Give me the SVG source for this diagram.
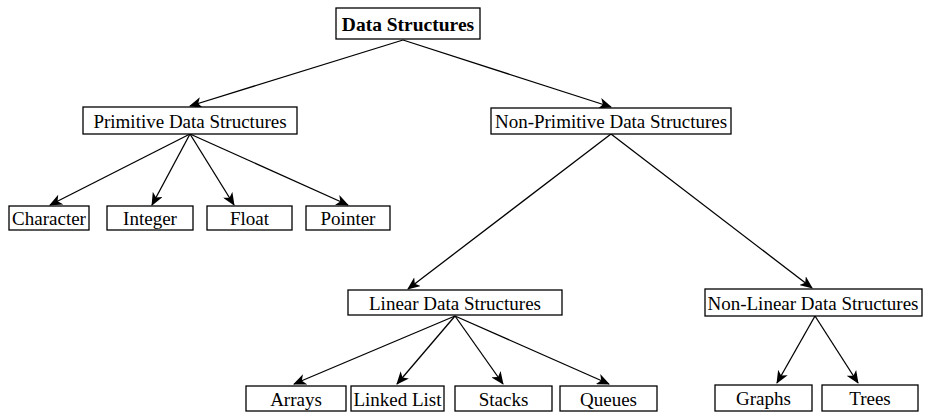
<svg xmlns="http://www.w3.org/2000/svg" width="926" height="412" viewBox="0 0 926 412">
<style>
.box{fill:#fff;stroke:#000;stroke-width:1.3}
.t{font-family:"Liberation Serif",serif;font-size:19px;fill:#000;text-anchor:middle;dominant-baseline:central}
.b{font-weight:bold;font-size:19.5px}
.c{stroke:#000;stroke-width:1.3;fill:none;marker-end:url(#ah)}
</style>
<defs>
<marker id="ah" viewBox="0 0 13 11" refX="12" refY="5.5" markerWidth="13" markerHeight="11" markerUnits="userSpaceOnUse" orient="auto">
<path d="M0,0 L13,5.5 L0,11 L3.5,5.5 Z" fill="#000"/>
</marker>
</defs>
<rect width="926" height="412" fill="#fff"/>
<g id="connectors">
<line class="c" x1="403" y1="40" x2="190" y2="106"/>
<line class="c" x1="403" y1="40" x2="611" y2="107"/>
<line class="c" x1="190" y1="134" x2="50" y2="205"/>
<line class="c" x1="190" y1="134" x2="152" y2="205"/>
<line class="c" x1="190" y1="134" x2="234" y2="205"/>
<line class="c" x1="190" y1="134" x2="348" y2="205"/>
<line class="c" x1="611" y1="134" x2="408" y2="289"/>
<line class="c" x1="611" y1="134" x2="812" y2="288"/>
<line class="c" x1="455" y1="316" x2="294" y2="384"/>
<line class="c" x1="455" y1="316" x2="397" y2="384"/>
<line class="c" x1="455" y1="316" x2="503" y2="384"/>
<line class="c" x1="455" y1="316" x2="609" y2="384"/>
<line class="c" x1="815" y1="316" x2="777" y2="383"/>
<line class="c" x1="815" y1="316" x2="858" y2="383"/>
</g>
<g id="n-data-structures"><rect class="box" x="336" y="8" width="144" height="31"/><text class="t b" x="408" y="24">Data Structures</text></g>
<g id="n-primitive"><rect class="box" x="83" y="107" width="214" height="27"/><text class="t" x="190" y="121">Primitive Data Structures</text></g>
<g id="n-nonprimitive"><rect class="box" x="491" y="108" width="240" height="26"/><text class="t" x="611" y="121">Non-Primitive Data Structures</text></g>
<g id="n-character"><rect class="box" x="9" y="206" width="80" height="24"/><text class="t" x="49" y="218">Character</text></g>
<g id="n-integer"><rect class="box" x="107" y="206" width="86" height="24"/><text class="t" x="150" y="218">Integer</text></g>
<g id="n-float"><rect class="box" x="207" y="206" width="85" height="24"/><text class="t" x="249.500" y="218">Float</text></g>
<g id="n-pointer"><rect class="box" x="306" y="206" width="84" height="24"/><text class="t" x="348" y="218">Pointer</text></g>
<g id="n-linear"><rect class="box" x="348" y="290" width="214" height="25"/><text class="t" x="455" y="303">Linear Data Structures</text></g>
<g id="n-nonlinear"><rect class="box" x="705" y="289" width="217" height="27"/><text class="t" x="813" y="303">Non-Linear Data Structures</text></g>
<g id="n-arrays"><rect class="box" x="246" y="386" width="100" height="25"/><text class="t" x="296" y="399">Arrays</text></g>
<g id="n-linkedlist"><rect class="box" x="351" y="386" width="93" height="25"/><text class="t" x="397.500" y="399">Linked List</text></g>
<g id="n-stacks"><rect class="box" x="455" y="386" width="97" height="25"/><text class="t" x="503.500" y="399">Stacks</text></g>
<g id="n-queues"><rect class="box" x="560" y="386" width="97" height="25"/><text class="t" x="608.500" y="399">Queues</text></g>
<g id="n-graphs"><rect class="box" x="715" y="385" width="97" height="26"/><text class="t" x="763.500" y="398">Graphs</text></g>
<g id="n-trees"><rect class="box" x="822" y="385" width="96" height="26"/><text class="t" x="870" y="398">Trees</text></g>
</svg>
